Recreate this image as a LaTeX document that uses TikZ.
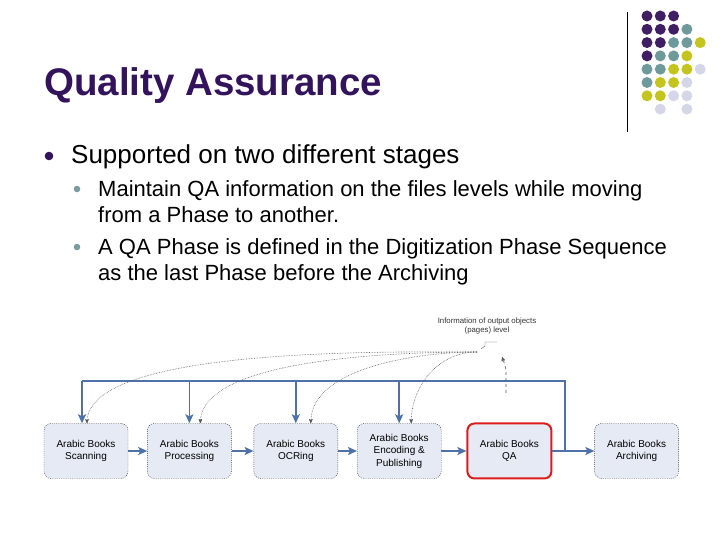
\documentclass[tikz,border=0pt]{standalone}
\usepackage{fontspec}
\setmainfont{Liberation Sans}
\usetikzlibrary{arrows,arrows.meta,positioning}

\definecolor{titlepurple}{HTML}{33145C}
\definecolor{dotpurple}{HTML}{3F1E63}
\definecolor{dotteal}{HTML}{6F9A9B}
\definecolor{dotyellow}{HTML}{C4C41E}
\definecolor{dotlilac}{HTML}{D5D6E8}
\definecolor{subbullet}{HTML}{7A9C9E}
\definecolor{boxfill}{HTML}{E5EAF4}
\definecolor{flowblue}{HTML}{4E72A8}
\definecolor{qared}{HTML}{DD1C1C}

\begin{document}
\begin{tikzpicture}[x=1pt,y=1pt,>=stealth',node distance=20pt,
  phase/.style={rectangle,rounded corners=7pt,draw=black!80,fill=boxfill,
  dash pattern=on 1pt off 1.2pt,
  minimum width=84pt,minimum height=55pt,align=center,inner sep=2pt,
  font=\fontsize{10}{12.5}\selectfont},
  flow/.style={-{Stealth[length=9pt,width=8pt,inset=2pt]},draw=flowblue,line width=1.7pt},
  trace/.style={->,draw=gray!70!black,densely dotted,semithick},
  lvlone/.style={anchor=base west,inner sep=0,font=\fontsize{26}{30}\selectfont},
  lvltwo/.style={anchor=base west,inner sep=0,font=\fontsize{22}{26}\selectfont}]
  \useasboundingbox (0,0) rectangle (720,540);

  % dots in the corner
  \draw[black,thin] (627,528) -- (627,408);
  \foreach \r/\c/\col in {0/0/dotpurple,0/1/dotpurple,0/2/dotpurple,
      1/0/dotpurple,1/1/dotpurple,1/2/dotpurple,1/3/dotteal,
      2/0/dotpurple,2/1/dotpurple,2/2/dotteal,2/3/dotteal,2/4/dotyellow,
      3/0/dotpurple,3/1/dotteal,3/2/dotteal,3/3/dotyellow,
      4/0/dotteal,4/1/dotteal,4/2/dotyellow,4/3/dotyellow,4/4/dotlilac,
      5/0/dotteal,5/1/dotyellow,5/2/dotyellow,5/3/dotlilac,
      6/0/dotyellow,6/1/dotyellow,6/2/dotlilac,6/3/dotlilac,
      7/1/dotlilac,7/3/dotlilac}
    \fill[\col] (647+13.3*\c,524-13.3*\r) circle (5.5);

  % title and text
  \node[anchor=base west,inner sep=0,text=titlepurple,
    font=\fontsize{38.5}{44}\selectfont\bfseries] (title) at (44,444) {Quality Assurance};

  \fill[titlepurple] (49,384) circle (4.3);
  \node[lvlone] (stages) at (71,376) {Supported on two different stages};

  \fill[subbullet] (77,351) circle (3.3);
  \node[lvltwo] (itemA) at (98,343) {Maintain QA information on the files levels while moving};
  \node[lvltwo] (itemAb) at (98,317) {from a Phase to another.};
  \fill[subbullet] (77,293) circle (3.3);
  \node[lvltwo] (itemB) at (98,285) {A QA Phase is defined in the Digitization Phase Sequence};
  \node[lvltwo] (itemBb) at (98,259) {as the last Phase before the Archiving};

  % the phases
  \node[phase] (scan) at (86,89) {Arabic Books\\Scanning};
  \node[phase] (proc) [right=19pt of scan] {Arabic Books\\Processing};
  \node[phase] (ocr) [right=22pt of proc] {Arabic Books\\OCRing};
  \node[phase] (enc) [right=19pt of ocr] {Arabic Books\\Encoding \&\\Publishing};
  \node[phase,draw=qared,solid,line width=2pt] (qa) [right=25pt of enc] {Arabic Books\\QA};
  \node[phase] (arch) [right=42pt of qa] {Arabic Books\\Archiving};

  \node[align=center,inner sep=0,text=black!80,font=\fontsize{7.8}{9}\selectfont]
    (info) at (487,214) {Information of output objects\\(pages) level};

  \coordinate (loop) at (565,159);
  \coordinate (src) at (477,188);
  \coordinate (qatop) at (506,147);
  \coordinate (infoend) at (502,183);

  \draw[flow] (scan) -- (proc);
  \draw[flow] (proc) -- (ocr);
  \draw[flow] (ocr) -- (enc);
  \draw[flow] (enc) -- (qa);
  \draw[flow] (qa) -- (arch);

  % back to every phase
  \draw[draw=flowblue,line width=1.6pt] (qa.east) -| (loop) -- ([xshift=-4pt]scan.north |- loop);
  \draw[flow] ([xshift=-4pt]scan.north |- loop) -- ([xshift=-4pt]scan.north);
  \draw[flow] (proc.north |- loop) -- (proc.north);
  \draw[flow] (ocr.north |- loop) -- (ocr.north);
  \draw[flow] (enc.north |- loop) -- (enc.north);

  % output objects
  \draw[draw=gray!70!black,thin] (481,191) -- (485,194) |- (497,198);
  \draw[->,draw=gray!70!black,dashed,semithick] (qatop) -- ++(0,20) to[out=90,in=-70] (infoend);
  \draw[trace] (src) to[out=180,in=90,looseness=0.5] ([xshift=1pt]scan.north);
  \draw[trace] (src) to[out=180,in=90,looseness=0.6] ([xshift=11pt]proc.north);
  \draw[trace] (src) to[out=180,in=90,looseness=0.8] ([xshift=15pt]ocr.north);
  \draw[trace] (src) to[out=180,in=90,looseness=1] ([xshift=12pt]enc.north);
\end{tikzpicture}
\end{document}
